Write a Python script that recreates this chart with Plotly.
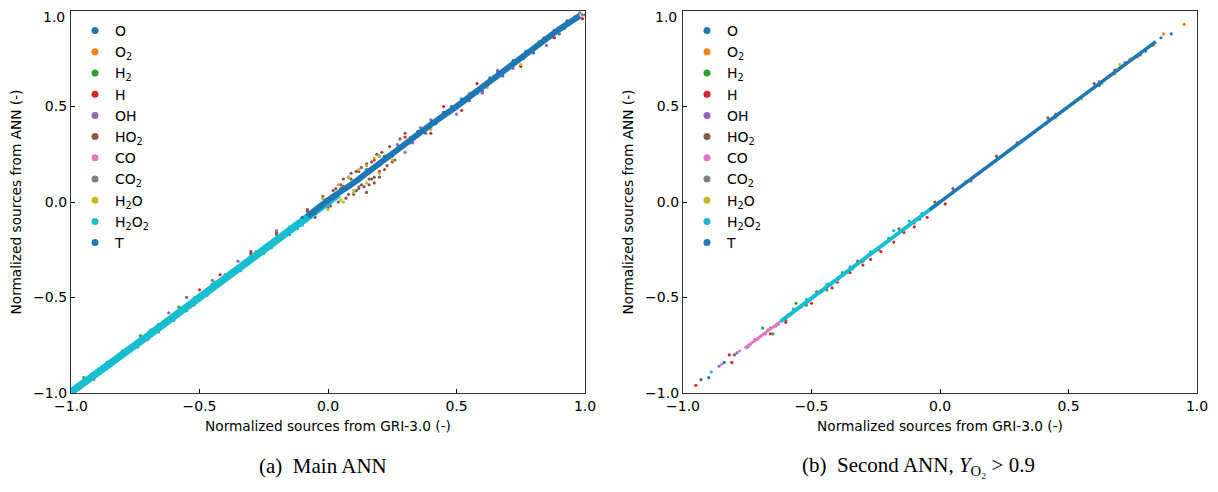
import plotly.graph_objects as go

species = ["O", "O<sub>2</sub>", "H<sub>2</sub>", "H", "OH", "HO<sub>2</sub>", "CO",
           "CO<sub>2</sub>", "H<sub>2</sub>O", "H<sub>2</sub>O<sub>2</sub>", "T"]
colors = ["#1f77b4", "#ff7f0e", "#2ca02c", "#d62728", "#9467bd", "#8c564b",
          "#e377c2", "#7f7f7f", "#bcbd22", "#17becf", "#1f77b4"]
ticks = [-1.0, -0.5, 0.0, 0.5, 1.0]
tick_labels = ["\u22121.0", "\u22120.5", "0.0", "0.5", "1.0"]

# ---------------- panel (a): main ANN ----------------
a_band_h2o2_x = [-1.0, -0.9, -0.8, -0.7, -0.6, -0.5, -0.4, -0.3, -0.2, -0.1, 0.0, 0.04]
a_band_h2o2_y = [-0.995, -0.9, -0.80, -0.70, -0.60, -0.50, -0.40, -0.30, -0.19, -0.095, 0.0, 0.04]
a_band_t_x = [-0.08, 0.0, 0.1, 0.2, 0.3, 0.4, 0.5, 0.6, 0.7, 0.8, 0.9, 0.98]
a_band_t_y = [-0.075, 0.01, 0.10, 0.205, 0.30, 0.405, 0.50, 0.60, 0.705, 0.80, 0.905, 0.975]

a_x = {
    "O": [0.15, 0.25, 0.35, 0.42, 0.48, 0.55, 0.63, 0.68, 0.72, 0.80, 0.85, 0.88, 0.93, 0.96,
          0.38, 0.52, 0.6, 0.77, 0.9],
    "O<sub>2</sub>": [-0.97, -0.94, -0.88, -0.62, -0.2],
    "H<sub>2</sub>": [-0.95, -0.86, -0.80, -0.73, -0.66, -0.58, -0.45, -0.30],
    "H": [-0.55, -0.5, -0.42, -0.30, -0.2, -0.08, 0.06, 0.18, 0.30, 0.40, 0.45, 0.52, 0.58, 0.75, 0.88, 0.99],
    "OH": [-0.62, -0.55, -0.45, -0.35, -0.2, -0.02, 0.12, 0.2, 0.3, 0.36, 0.4, 0.5, 0.6, 0.66, 0.72, 0.85,
           0.27, 0.33, 0.45, 0.55],
    "HO<sub>2</sub>": [-0.12, -0.08, -0.05, -0.02, 0.0, 0.02, 0.04, 0.05, 0.07, 0.08, 0.10, 0.11, 0.12,
                       0.13, 0.14, 0.15, 0.16, 0.17, 0.18, 0.19, 0.2, 0.21, 0.22, 0.24, 0.26, 0.28, 0.3,
                       0.06, 0.09, 0.15, 0.23, 0.17, 0.12, -0.15, -0.2, -0.3, 0.03, 0.08, 0.13, 0.18,
                       0.11, 0.16, 0.2, 0.25, 0.01, 0.09],
    "CO": [-0.96, -0.91, -0.70, -0.52, -0.1],
    "CO<sub>2</sub>": [0.88, 0.91, 0.93, 0.95, 0.96, 0.97, 0.98, 0.99, 1.0],
    "H<sub>2</sub>O": [-0.02, 0.0, 0.04, 0.06, 0.08, 0.1, 0.12, 0.15, 0.18, 0.2, 0.05, 0.1, 0.15, 0.2,
                       0.25, 0.32, 0.4, 0.55, 0.62, 0.75, 0.82, 0.9],
    "H<sub>2</sub>O<sub>2</sub>": [-0.98, -0.92, -0.86, -0.8, -0.74, -0.66, -0.6, -0.52, -0.47, -0.4,
                                   -0.34, -0.28, -0.22, -0.15, -0.1, -0.05, -0.69, -0.55, -0.44, -0.25],
    "T": [-0.1, -0.05, 0.05, 0.12, 0.22, 0.32, 0.45, 0.58, 0.66, 0.76, 0.84, 0.92],
}
a_y = {
    "O": [0.17, 0.24, 0.37, 0.41, 0.50, 0.53, 0.65, 0.66, 0.74, 0.78, 0.86, 0.86, 0.94, 0.95,
          0.36, 0.54, 0.58, 0.79, 0.88],
    "O<sub>2</sub>": [-0.98, -0.95, -0.87, -0.61, -0.21],
    "H<sub>2</sub>": [-0.92, -0.84, -0.78, -0.70, -0.68, -0.55, -0.43, -0.28],
    "H": [-0.50, -0.46, -0.38, -0.26, -0.16, -0.04, 0.08, 0.22, 0.34, 0.36, 0.50, 0.48, 0.62, 0.71, 0.86, 0.96],
    "OH": [-0.58, -0.50, -0.41, -0.31, -0.15, 0.02, 0.08, 0.24, 0.26, 0.39, 0.43, 0.46, 0.57, 0.69, 0.70, 0.82,
           0.30, 0.31, 0.47, 0.53],
    "HO<sub>2</sub>": [-0.14, -0.05, -0.08, 0.03, -0.03, 0.06, 0.0, 0.09, 0.02, 0.13, 0.04, 0.16, 0.07,
                       0.18, 0.08, 0.2, 0.09, 0.21, 0.1, 0.25, 0.13, 0.26, 0.17, 0.29, 0.22, 0.33, 0.36,
                       0.12, 0.15, 0.05, 0.19, 0.12, 0.16, -0.17, -0.17, -0.27, 0.07, 0.04, 0.09, 0.13,
                       0.06, 0.12, 0.16, 0.21, -0.02, 0.12],
    "CO": [-0.95, -0.93, -0.72, -0.54, -0.12],
    "CO<sub>2</sub>": [0.90, 0.92, 0.95, 0.95, 0.97, 0.96, 0.99, 0.98, 0.98],
    "H<sub>2</sub>O": [0.02, -0.04, 0.09, 0.0, 0.13, 0.05, 0.17, 0.1, 0.23, 0.15, 0.01, 0.06, 0.19, 0.24,
                       0.22, 0.34, 0.38, 0.57, 0.60, 0.72, 0.84, 0.89],
    "H<sub>2</sub>O<sub>2</sub>": [-0.96, -0.90, -0.87, -0.78, -0.76, -0.64, -0.62, -0.50, -0.49, -0.38,
                                   -0.36, -0.26, -0.24, -0.13, -0.12, -0.03, -0.67, -0.57, -0.42, -0.27],
    "T": [-0.08, -0.06, 0.07, 0.11, 0.24, 0.31, 0.47, 0.57, 0.68, 0.75, 0.86, 0.91],
}

# ---------------- panel (b): second ANN ----------------
b_band_h2o2_x = [-0.62, -0.5, -0.4, -0.3, -0.2, -0.1, 0.0]
b_band_h2o2_y = [-0.625, -0.505, -0.405, -0.30, -0.20, -0.10, 0.0]
b_band_co_x = [-0.76, -0.7, -0.62, -0.55, -0.48]
b_band_co_y = [-0.765, -0.705, -0.625, -0.555, -0.485]
b_band_t_x = [-0.04, 0.1, 0.2, 0.3, 0.4, 0.5, 0.6, 0.7, 0.8, 0.84]
b_band_t_y = [-0.04, 0.10, 0.20, 0.30, 0.40, 0.50, 0.60, 0.70, 0.80, 0.84]

b_x = {
    "O": [-0.90, -0.84, -0.75, 0.05, 0.35, 0.62, 0.80, 0.86, 0.90],
    "O<sub>2</sub>": [0.52, 0.60, 0.70, 0.74, 0.77, 0.83, 0.87, 0.95],
    "H<sub>2</sub>": [-0.69, -0.65, -0.56, -0.52, -0.44, -0.38, -0.30, -0.20],
    "H": [-0.95, -0.82, -0.81, -0.66, -0.6, -0.5, -0.42, -0.35, -0.30, -0.27, -0.23, -0.18, -0.14, -0.1, -0.05, 0.02],
    "OH": [-0.86, -0.79, -0.72, -0.68, -0.63, -0.58, -0.46, -0.34, -0.1],
    "HO<sub>2</sub>": [-0.93, -0.80, -0.66, -0.6, -0.48, -0.40, -0.32, -0.24, -0.16, -0.08, -0.02, 0.05, 0.12,
                       0.22, 0.3, 0.42, 0.6, 0.68],
    "CO": [-0.85, -0.78, -0.74, -0.71, -0.67, -0.64, -0.59, -0.54, -0.49, -0.45, -0.4],
    "CO<sub>2</sub>": [0.45, 0.62, 0.72, 0.78, 0.82],
    "H<sub>2</sub>O": [0.1, 0.25, 0.45, 0.55, 0.63, 0.68, 0.70],
    "H<sub>2</sub>O<sub>2</sub>": [-0.89, -0.57, -0.52, -0.44, -0.35, -0.27, -0.18, -0.12, -0.07],
    "T": [0.0, 0.15, 0.28, 0.45, 0.55, 0.66, 0.72, 0.76, 0.82],
}
b_y = {
    "O": [-0.92, -0.84, -0.76, 0.05, 0.35, 0.61, 0.79, 0.86, 0.88],
    "O<sub>2</sub>": [0.52, 0.60, 0.70, 0.75, 0.76, 0.82, 0.88, 0.93],
    "H<sub>2</sub>": [-0.66, -0.69, -0.53, -0.54, -0.46, -0.37, -0.31, -0.19],
    "H": [-0.96, -0.80, -0.84, -0.69, -0.63, -0.53, -0.45, -0.37, -0.33, -0.30, -0.26, -0.21, -0.16, -0.13, -0.08, -0.01],
    "OH": [-0.86, -0.79, -0.72, -0.69, -0.64, -0.59, -0.47, -0.35, -0.11],
    "HO<sub>2</sub>": [-0.93, -0.80, -0.66, -0.62, -0.47, -0.42, -0.31, -0.25, -0.14, -0.09, 0.0, 0.07, 0.11,
                       0.24, 0.31, 0.44, 0.62, 0.69],
    "CO": [-0.85, -0.78, -0.75, -0.72, -0.67, -0.65, -0.59, -0.55, -0.49, -0.46, -0.41],
    "CO<sub>2</sub>": [0.46, 0.63, 0.73, 0.77, 0.82],
    "H<sub>2</sub>O": [0.11, 0.25, 0.44, 0.54, 0.62, 0.67, 0.72],
    "H<sub>2</sub>O<sub>2</sub>": [-0.89, -0.56, -0.51, -0.43, -0.34, -0.26, -0.15, -0.10, -0.06],
    "T": [0.0, 0.15, 0.28, 0.45, 0.55, 0.66, 0.72, 0.76, 0.82],
}

fig = go.Figure()

def add_panel(xd, yd, bands, xa, ya, legend_name):
    for i, sp in enumerate(species):
        for (bsp, bx, by, bw) in bands:
            if bsp == sp:
                fig.add_trace(go.Scatter(x=bx, y=by, mode="lines", xaxis=xa, yaxis=ya,
                                         line=dict(color=colors[i], width=bw),
                                         showlegend=False, hoverinfo="skip"))
        fig.add_trace(go.Scatter(x=xd[sp], y=yd[sp], mode="markers", xaxis=xa, yaxis=ya,
                                 marker=dict(color=colors[i], size=3.2, line=dict(width=0)),
                                 showlegend=False, name=sp))
    for i, sp in enumerate(species):
        fig.add_trace(go.Scatter(x=[None], y=[None], mode="markers", xaxis=xa, yaxis=ya,
                                 marker=dict(color=colors[i], size=7), name=sp,
                                 legend=legend_name, showlegend=True))

add_panel(a_x, a_y,
          [("H<sub>2</sub>O<sub>2</sub>", a_band_h2o2_x, a_band_h2o2_y, 7.5),
           ("T", a_band_t_x, a_band_t_y, 6)],
          "x", "y", "legend")
add_panel(b_x, b_y,
          [("CO", b_band_co_x, b_band_co_y, 3),
           ("H<sub>2</sub>O<sub>2</sub>", b_band_h2o2_x, b_band_h2o2_y, 4),
           ("T", b_band_t_x, b_band_t_y, 3.5)],
          "x2", "y2", "legend2")

W, H = 1218, 492
OFF = 8  # page body margin in the browser
def px_x(p):
    return (p - OFF) / W
def px_y(p):
    return 1 - (p - OFF) / H

tickfont = dict(family="DejaVu Sans", size=14, color="#000")
axis_common = dict(range=[-1.0, 1.0], tickvals=ticks,
                   ticks="inside", ticklen=4, tickwidth=1, tickcolor="#000",
                   showline=True, linecolor="#333", linewidth=1.2, mirror=True,
                   showgrid=False, zeroline=False, automargin=False,
                   ticklabeloverflow="allow", tickfont=tickfont)
# the top y label sits at the page edge; it is drawn as a separate text just below it
y_tick_labels = tick_labels[:-1] + [""]
xtitle = dict(text="Normalized sources from GRI-3.0 (-)", font=dict(family="DejaVu Sans", size=13.7, color="#000"), standoff=8)
ytitle = dict(text="Normalized sources from ANN (-)", font=dict(family="DejaVu Sans", size=13.7, color="#000"), standoff=8)

fig.update_layout(
    width=W, height=H,
    margin=dict(l=0, r=0, t=0, b=0),
    paper_bgcolor="white", plot_bgcolor="white",
    xaxis=dict(domain=[px_x(71), px_x(585)], anchor="y", title=xtitle, ticktext=tick_labels, **axis_common),
    yaxis=dict(domain=[px_y(393), px_y(11)], anchor="x", title=ytitle, ticktext=y_tick_labels, **axis_common),
    xaxis2=dict(domain=[px_x(683), px_x(1197)], anchor="y2", title=xtitle, ticktext=tick_labels, **axis_common),
    yaxis2=dict(domain=[px_y(393), px_y(11)], anchor="x2", title=ytitle, ticktext=y_tick_labels, **axis_common),
    legend=dict(x=px_x(75), y=px_y(15), xanchor="left", yanchor="top", bgcolor="rgba(0,0,0,0)",
                font=dict(family="DejaVu Sans", size=14, color="#000"), itemsizing="trace"),
    legend2=dict(x=px_x(687), y=px_y(15), xanchor="left", yanchor="top", bgcolor="rgba(0,0,0,0)",
                 font=dict(family="DejaVu Sans", size=14, color="#000"), itemsizing="trace"),
    showlegend=True,
    annotations=[
        dict(text=tick_labels[-1], x=px_x(66), y=1.0, xref="paper", yref="paper",
             xanchor="right", yanchor="top", borderpad=0, showarrow=False, font=tickfont),
        dict(text=tick_labels[-1], x=px_x(678), y=1.0, xref="paper", yref="paper",
             xanchor="right", yanchor="top", borderpad=0, showarrow=False, font=tickfont),
        dict(text="(a)\u2002Main ANN", x=px_x(323), y=px_y(466), xref="paper", yref="paper",
             xanchor="center", yanchor="middle", showarrow=False,
             font=dict(family="Liberation Serif", size=21, color="#000")),
        dict(text="(b)\u2002Second ANN, <i>Y</i><sub>O\u2082</sub> > 0.9", x=px_x(918), y=px_y(466),
             xref="paper", yref="paper", xanchor="center", yanchor="middle", showarrow=False,
             font=dict(family="Liberation Serif", size=21, color="#000")),
    ],
)

fig.write_html("out.html")
